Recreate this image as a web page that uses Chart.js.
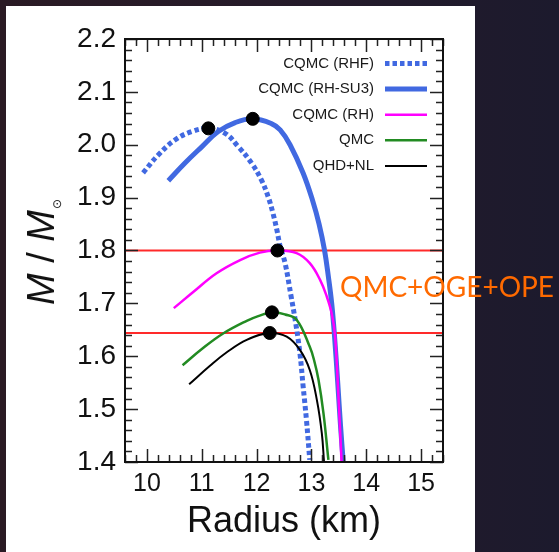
<!DOCTYPE html>
<html>
<head>
<meta charset="utf-8">
<script src="https://cdn.jsdelivr.net/npm/chart.js@4.4.0/dist/chart.umd.min.js"></script>
<style>
  html, body { margin: 0; padding: 0; width: 559px; height: 552px; overflow: hidden;
    background: linear-gradient(90deg, #2a1a24 0%, #241a2a 55%, #1c1a2d 100%); }
  #panel { position: absolute; left: 6px; top: 6px; width: 469px; height: 546px; background: #ffffff; }
  #panel canvas { position: absolute; left: 0; top: 0; }
  #ytitle { position: absolute; left: 35px; top: 246px; transform: translate(-50%, -50%) rotate(-90deg);
    white-space: nowrap; font-family: 'Liberation Sans', Arial, sans-serif; font-size: 38px; line-height: 1; color: #111; }
  #ytitle i { font-style: italic; }
  #ytitle .sun { position: relative; top: 7px; font-family: 'DejaVu Sans', sans-serif; font-size: 12px; margin-left: 1px; }
  #tag { position: absolute; left: 340px; top: 272px; white-space: nowrap; color: #ff6a00;
    font-family: 'Lato', 'Liberation Sans', sans-serif; font-weight: 400; font-size: 28px; line-height: 1; }
</style>
</head>
<body>
<div id="panel">
  <canvas id="mr" width="469" height="546"></canvas>
  <div id="ytitle"><i>M</i> / <i>M</i><span class="sun">⊙</span></div>
</div>
<div id="tag">QMC+OGE+OPE</div>
<script>
// Axis ranges and tick labels
const xRange = [9.6, 15.4];
const yRange = [1.4, 2.2];
const xTicks = [10, 11, 12, 13, 14, 15];
const yTicks = [1.4, 1.5, 1.6, 1.7, 1.8, 1.9, 2.0, 2.1, 2.2];

// Model names (legend order)
const models = ['CQMC (RHF)', 'CQMC (RH-SU3)', 'CQMC (RH)', 'QMC', 'QHD+NL'];

// Mass-radius sequences: radius in km, mass in solar masses
const rhfRadius  = [9.93, 10.21, 10.51, 10.82, 11.12, 11.42, 11.67, 11.91, 12.09, 12.21, 12.30, 12.37, 12.43, 12.52, 12.63, 12.71, 12.79, 12.85, 12.91, 12.97];
const rhfMass    = [1.947, 1.981, 2.009, 2.025, 2.031, 2.022, 1.996, 1.965, 1.933, 1.902, 1.870, 1.839, 1.808, 1.776, 1.713, 1.665, 1.606, 1.542, 1.479, 1.404];

const su3Radius  = [10.39, 10.69, 11.00, 11.30, 11.61, 11.93, 12.27, 12.43, 12.61, 12.85, 13.02, 13.14, 13.24, 13.31, 13.37, 13.42, 13.48, 13.53, 13.58];
const su3Mass    = [1.932, 1.965, 1.996, 2.025, 2.042, 2.049, 2.040, 2.028, 2.000, 1.946, 1.895, 1.850, 1.800, 1.750, 1.700, 1.640, 1.550, 1.470, 1.400];

const rhRadius   = [10.49, 10.85, 11.27, 11.70, 12.06, 12.38, 12.73, 12.97, 13.16, 13.28, 13.37, 13.43, 13.49, 13.55];
const rhMass     = [1.691, 1.722, 1.757, 1.782, 1.796, 1.800, 1.795, 1.776, 1.744, 1.713, 1.681, 1.640, 1.530, 1.400];

const qmcRadius  = [10.65, 11.03, 11.39, 11.82, 12.03, 12.28, 12.52, 12.73, 12.97, 13.05, 13.13, 13.22, 13.31];
const qmcMass    = [1.583, 1.616, 1.643, 1.667, 1.676, 1.683, 1.679, 1.669, 1.618, 1.592, 1.555, 1.492, 1.404];

const qhdRadius  = [10.77, 11.15, 11.45, 11.82, 12.24, 12.55, 12.79, 12.97, 13.10, 13.19, 13.23];
const qhdMass    = [1.547, 1.582, 1.607, 1.631, 1.644, 1.637, 1.612, 1.574, 1.517, 1.454, 1.400];

// Maximum-mass configurations of each model
const maxRadius  = [11.12, 11.93, 12.38, 12.28, 12.24];
const maxMass    = [2.031, 2.049, 1.800, 1.683, 1.644];

// Observed pulsar masses (horizontal reference lines)
const observedMass = [1.800, 1.644];

const pts = (xs, ys) => xs.map((x, i) => ({ x: x, y: ys[i] }));
const BLUE = '#4169e1';
const FONT = "'Liberation Sans', Arial, sans-serif";

const curve = (label, xs, ys, color, width, dash, order) => ({
  type: 'line', label, data: pts(xs, ys), borderColor: color, borderWidth: width,
  borderDash: dash, borderCapStyle: 'butt', pointRadius: 0, fill: false,
  tension: 0.4, order
});

const datasets = [
  { type: 'scatter', label: 'maxima', data: pts(maxRadius, maxMass), backgroundColor: '#000',
    borderColor: '#000', pointRadius: 6.5, pointHoverRadius: 6.5, order: 0 },
  curve(models[4], qhdRadius, qhdMass, '#000000', 2, [], 1),
  curve(models[3], qmcRadius, qmcMass, '#228b22', 2.5, [], 2),
  curve(models[2], rhRadius, rhMass, '#ff00ff', 2.5, [], 3),
  curve(models[0], rhfRadius, rhfMass, BLUE, 5, [4.5, 3], 4),
  curve(models[1], su3Radius, su3Mass, BLUE, 5, [], 5),
  ...observedMass.map(m => ({
    type: 'line', label: 'obs ' + m, data: pts(xRange, [m, m]), borderColor: '#ff2a2a',
    borderWidth: 1.8, pointRadius: 0, fill: false, order: 6
  }))
];

// Closed frame with inward major/minor ticks on all four sides
const frameTicks = {
  id: 'frameTicks',
  afterDatasetsDraw(chart) {
    const { ctx, chartArea: a, scales: { x, y } } = chart;
    ctx.save();
    ctx.strokeStyle = '#222';
    ctx.lineWidth = 1.5;
    ctx.beginPath();
    for (let v = 9.6; v <= 15.4001; v += 0.2) {
      const major = Math.abs(v - Math.round(v)) < 1e-6;
      const len = major ? 13 : 7;
      const px = Math.round(x.getPixelForValue(v)) + 0.5;
      ctx.moveTo(px, a.bottom); ctx.lineTo(px, a.bottom - len);
      ctx.moveTo(px, a.top); ctx.lineTo(px, a.top + len);
    }
    for (let v = 1.4; v <= 2.2001; v += 0.02) {
      const major = Math.abs(v * 10 - Math.round(v * 10)) < 1e-6;
      const len = major ? 13 : 7;
      const py = Math.round(y.getPixelForValue(v)) + 0.5;
      ctx.moveTo(a.left, py); ctx.lineTo(a.left + len, py);
      ctx.moveTo(a.right, py); ctx.lineTo(a.right - len, py);
    }
    ctx.stroke();
    ctx.lineWidth = 2;
    ctx.strokeStyle = '#111';
    ctx.strokeRect(a.left, a.top, a.right - a.left, a.bottom - a.top);
    ctx.restore();
  }
};

// Legend in the upper right of the plot: label, then line sample
const insetLegend = {
  id: 'insetLegend',
  afterDraw(chart) {
    const { ctx, chartArea: a } = chart;
    ctx.save();
    ctx.font = '15px ' + FONT;
    ctx.textAlign = 'right';
    ctx.textBaseline = 'middle';
    models.forEach((name, i) => {
      const ds = chart.data.datasets.find(d => d.label === name);
      const yy = a.top + 24.5 + i * 25.6;
      ctx.fillStyle = '#1a1a1a';
      ctx.fillText(name, a.right - 69, yy);
      ctx.beginPath();
      ctx.strokeStyle = ds.borderColor;
      ctx.lineWidth = ds.borderWidth;
      ctx.lineCap = 'butt';
      ctx.setLineDash(ds.borderDash || []);
      ctx.moveTo(a.right - 58, yy);
      ctx.lineTo(a.right - 16, yy);
      ctx.stroke();
      ctx.setLineDash([]);
    });
    ctx.restore();
  }
};

new Chart(document.getElementById('mr'), {
  data: { datasets },
  options: {
    responsive: false,
    animation: false,
    devicePixelRatio: 1,
    events: [],
    layout: { padding: { top: 33, right: 32, left: 0, bottom: 0 } },
    plugins: { legend: { display: false }, tooltip: { enabled: false } },
    scales: {
      x: {
        type: 'linear', min: xRange[0], max: xRange[1],
        grid: { display: false, drawTicks: false }, border: { display: false },
        afterBuildTicks: s => { s.ticks = xTicks.map(v => ({ value: v })); },
        afterFit: s => { s.height = 90; },
        ticks: { font: { family: FONT, size: 25 }, color: '#111', padding: 7, maxRotation: 0, autoSkip: false,
          callback: v => String(v) },
        title: { display: true, text: 'Radius (km)', font: { family: FONT, size: 36 }, color: '#111',
          padding: { top: 0, bottom: 8 } }
      },
      y: {
        type: 'linear', min: yRange[0], max: yRange[1],
        grid: { display: false, drawTicks: false }, border: { display: false },
        afterBuildTicks: s => { s.ticks = yTicks.map(v => ({ value: v })); },
        afterFit: s => { s.width = 119; },
        ticks: { font: { family: FONT, size: 28 }, color: '#111', padding: 9, autoSkip: false,
          callback: v => Number(v).toFixed(1) }
      }
    }
  },
  plugins: [frameTicks, insetLegend]
});
</script>
</body>
</html>
